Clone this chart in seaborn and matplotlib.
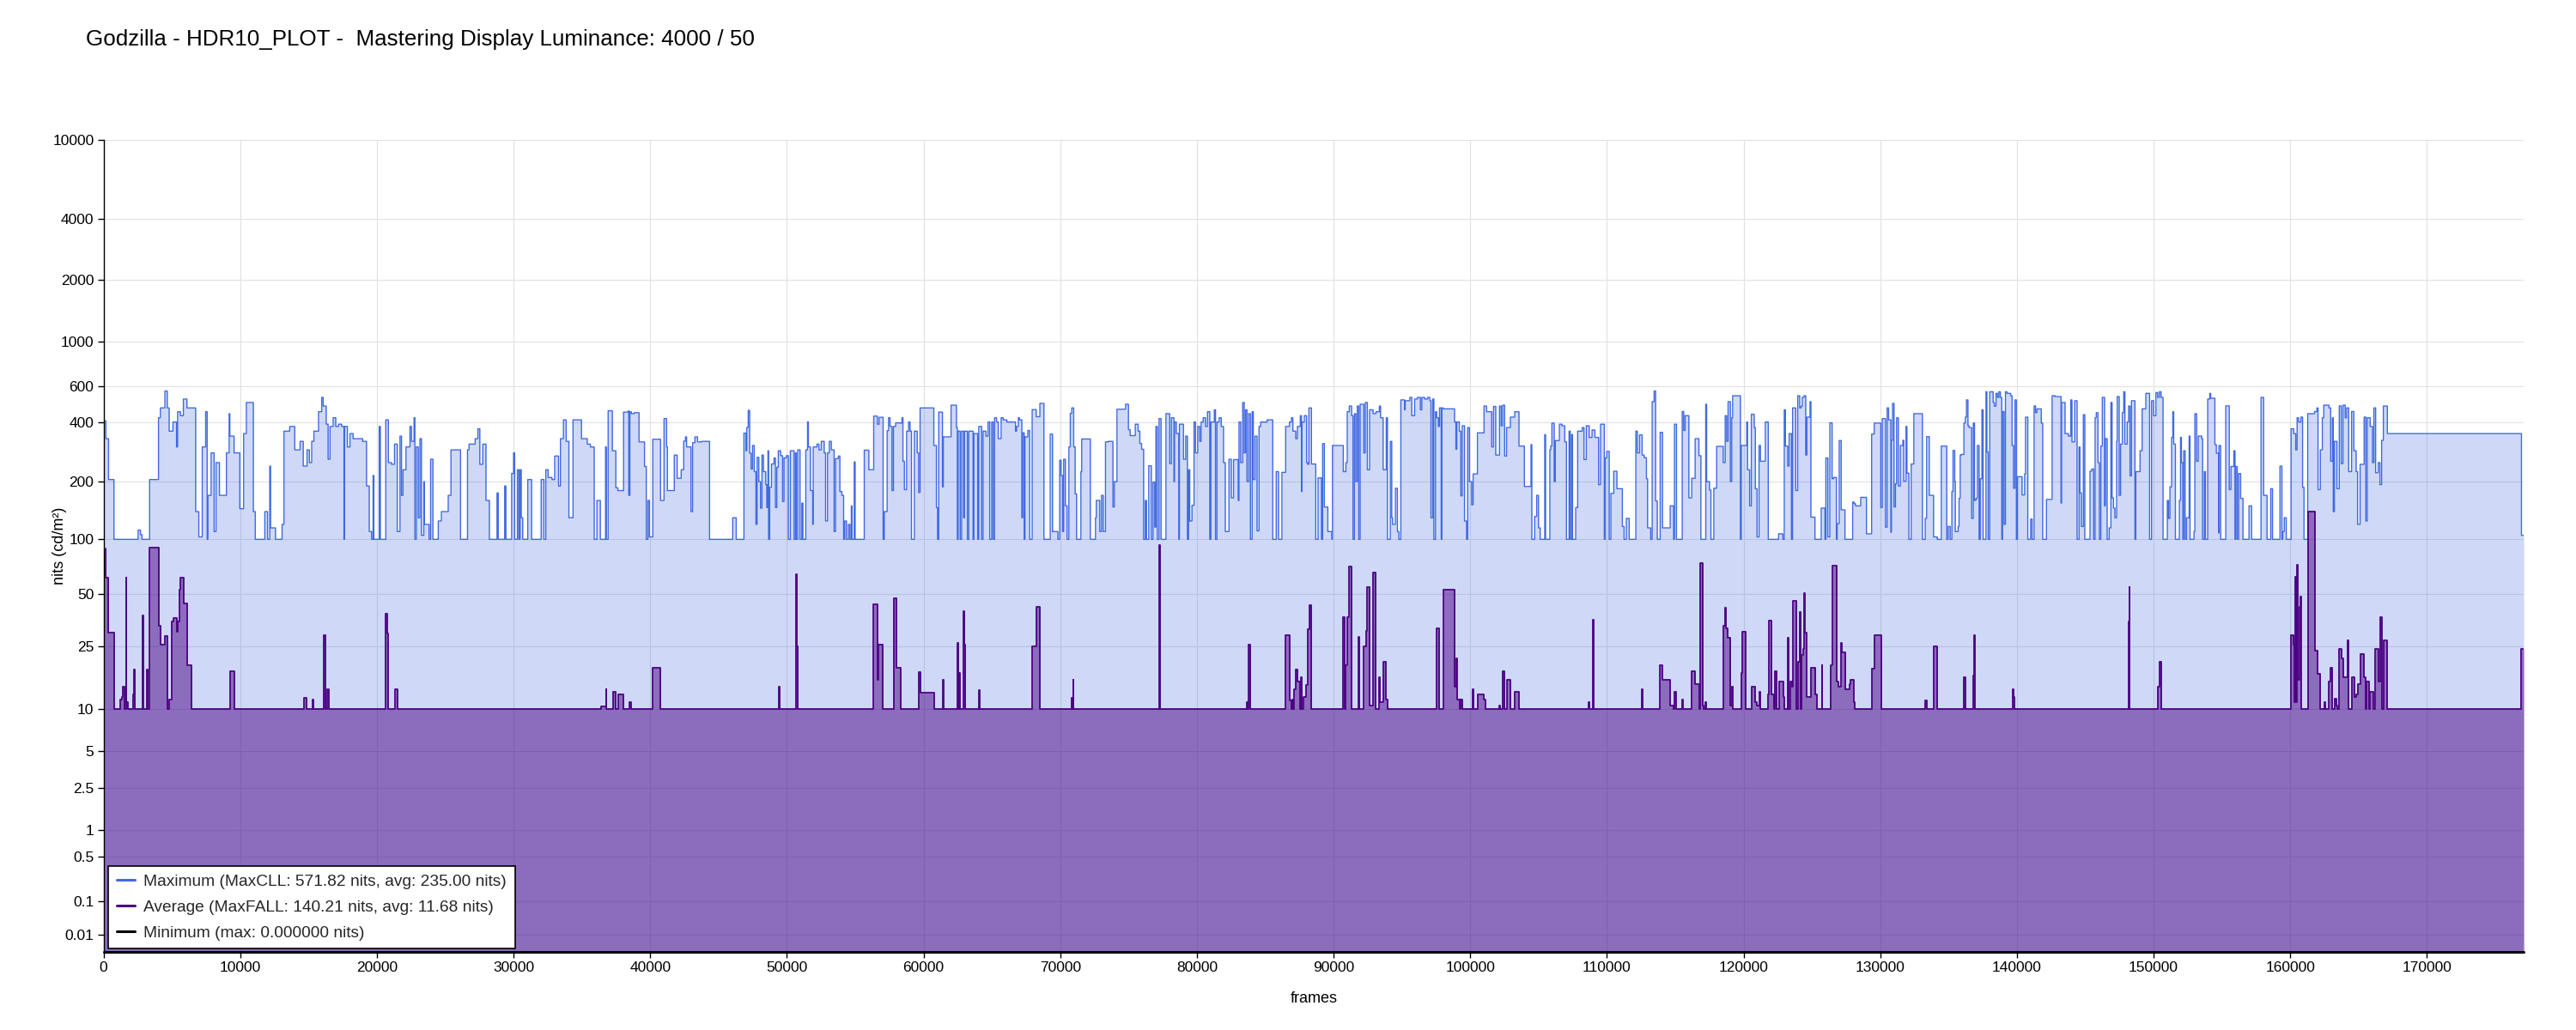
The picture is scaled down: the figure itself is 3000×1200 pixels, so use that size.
import numpy as np
import pandas as pd
import matplotlib
matplotlib.use("Agg")
import matplotlib.pyplot as plt
import seaborn as sns
from matplotlib.lines import Line2D
from matplotlib.ticker import FixedLocator, NullLocator, FixedFormatter

# ---------------- data ----------------
TITLE = "Godzilla - HDR10_PLOT -  Mastering Display Luminance: 4000 / 50"
TOTAL_FRAMES = 177080

# Maximum (MaxCLL) per frame, as step segments: start frame -> nits
max_start = [0, 170, 365, 760, 2530, 2700, 2810, 3370, 4020, 4160, 4490, 4660, 4800, 5080, 5340, 5420, 5620, 5840, 6100, 6740,
             6970, 7220, 7470, 7580, 7640, 7870, 8090, 8230, 8480, 8990, 9190, 9240, 9550, 9970, 10250, 10450, 10960, 11100, 11800, 12000,
             12160, 12220, 12580, 13060, 13200, 13620, 13990, 14380, 14610, 14890, 15060, 15230, 15390, 15730, 15960, 16070, 16290, 16430, 16570, 16800,
             16990, 17190, 17420, 17590, 17630, 17840, 18030, 18260, 18960, 19240, 19440, 19610, 19720, 19780, 20170, 20250, 20650, 20840, 21070, 21290,
             21490, 21690, 21800, 21910, 22130, 22420, 22530, 22720, 22780, 22890, 23030, 23150, 23260, 23430, 23480, 23820, 23930, 24100, 24490, 24720,
             25220, 25420, 26120, 26630, 26740, 27190, 27390, 27530, 27750, 27980, 28230, 28790, 28880, 29350, 29440, 29860, 30000, 30080, 30280, 30390,
             30480, 30560, 30670, 31040, 31320, 32020, 32220, 32360, 32530, 32810, 33010, 33290, 33430, 33650, 33850, 34050, 34350, 34970, 35390, 35620,
             35900, 36100, 36350, 36730, 36790, 36920, 37230, 37485, 37630, 38050, 38410, 38430, 38510, 38615, 38830, 39180, 39580, 39710, 39830, 39940,
             40190, 40755, 41010, 41195, 41260, 41760, 41970, 42265, 42450, 42580, 42660, 42980, 43100, 43270, 43460, 43770, 44340, 46035, 46290, 46855,
             47000, 47065, 47170, 47275, 47380, 47485, 47610, 47735, 47820, 47945, 48070, 48175, 48280, 48450, 48530, 48615, 48660, 48740, 48870, 49055,
             49160, 49265, 49370, 49540, 49685, 49790, 49960, 50105, 50250, 50525, 50630, 50690, 50795, 50960, 51090, 51170, 51380, 51510, 51570, 51720,
             51885, 51925, 52055, 52200, 52345, 52515, 52725, 52830, 52975, 53100, 53250, 53455, 53560, 53770, 53875, 54020, 54150, 54230, 54360, 54505,
             54610, 54715, 54760, 54925, 54990, 55660, 55995, 56350, 56620, 56750, 57040, 57125, 57335, 57440, 57545, 57690, 57795, 57960, 58280, 58425,
             58490, 58595, 58760, 58905, 59010, 59115, 59325, 59535, 59640, 59745, 60750, 60940, 61025, 61110, 61380, 61445, 62010, 62405, 62470, 62530,
             62680, 62785, 62930, 62995, 63205, 63310, 63620, 63685, 63960, 64040, 64250, 64355, 64565, 64715, 64840, 64985, 65090, 65195, 65340, 65465,
             65675, 65825, 66095, 66725, 66810, 66935, 67020, 67190, 67255, 67360, 67420, 67630, 67760, 67945, 68240, 68510, 68805, 69265, 69435, 69830,
             69960, 70060, 70170, 70250, 70375, 70500, 70630, 70735, 70840, 70985, 71090, 71195, 71510, 71570, 72200, 72580, 72640, 72890, 73020, 73145,
             73310, 73500, 73855, 73960, 74150, 74780, 74990, 75115, 75490, 75700, 75825, 75955, 76100, 76225, 76310, 76475, 76665, 76790, 76915, 77000,
             77105, 77230, 77378, 77735, 78010, 78135, 78320, 78365, 78490, 78680, 78720, 79015, 79180, 79305, 79390, 79475, 79640, 79790, 79895, 80060,
             80210, 80310, 80460, 80625, 80775, 80940, 81025, 81275, 81360, 81465, 81630, 81780, 81945, 82075, 82345, 82515, 82680, 83020, 83080, 83205,
             83350, 83460, 83560, 83665, 83790, 83915, 84040, 84125, 84250, 84400, 84545, 84670, 85135, 85550, 85800, 85970, 86220, 86495, 86770, 86915,
             87020, 87230, 87355, 87565, 87650, 87690, 87860, 88025, 88110, 88195, 88380, 88695, 88865, 89115, 89200, 89325, 89580, 89870, 89915, 90710,
             90900, 91000, 91150, 91320, 91420, 91525, 91630, 91735, 91840, 91945, 92050, 92215, 92320, 92470, 92635, 92890, 93100, 93350, 93435, 93625,
             93855, 93940, 94150, 94255, 94315, 94525, 94670, 94775, 94920, 95195, 95240, 95575, 95720, 95930, 96140, 96350, 96455, 96660, 96870, 97040,
             97125, 97250, 97335, 97460, 97540, 97665, 97750, 97875, 97920, 98025, 98850, 98950, 99015, 99200, 99310, 99415, 99580, 99730, 99810, 99940,
             100105, 100210, 100525, 101005, 101195, 101570, 101700, 101865, 102140, 102265, 102370, 102515, 102660, 102935, 103250, 103565, 103960, 104445, 104505, 104715,
             104860, 104990, 105115, 105450, 105510, 105825, 105890, 105975, 106080, 106140, 106225, 106520, 106705, 106915, 107040, 107230, 107315, 107420, 107485, 107715,
             107860, 108195, 108320, 108490, 108700, 108910, 109120, 109390, 109535, 109810, 109870, 109995, 110165, 110290, 110500, 110730, 111130, 111255, 111420, 111630,
             112115, 112220, 112385, 112575, 112720, 112890, 112975, 113205, 113310, 113455, 113560, 113685, 113895, 114065, 114630, 114880, 114945, 115090, 115510, 115615,
             115720, 115995, 116205, 116455, 116730, 116875, 117230, 117295, 117505, 117610, 117820, 118030, 118510, 118655, 118760, 118865, 119030, 119135, 119200, 119765,
             119830, 120230, 120290, 120440, 120565, 120775, 120860, 120985, 121130, 121235, 121590, 121805, 122560, 122870, 122975, 123060, 123225, 123330, 123500, 123585,
             123815, 123960, 124105, 124210, 124295, 124420, 124545, 124630, 124860, 124925, 125220, 125680, 125955, 126020, 126165, 126310, 126475, 126580, 126790, 126850,
             126995, 127140, 127415, 127980, 128085, 128190, 128570, 128990, 129370, 129560, 130040, 130150, 130380, 130505, 130610, 130775, 130820, 130900, 131005, 131110,
             131195, 131320, 131470, 131655, 131720, 131885, 131950, 132095, 132265, 132455, 133080, 133290, 133395, 133585, 133900, 134170, 134465, 134865, 134970, 135115,
             135240, 135325, 135450, 135490, 135700, 135765, 135850, 135935, 136120, 136225, 136310, 136415, 136500, 136685, 136810, 136895, 137000, 137105, 137230, 137315,
             137440, 137525, 137735, 137800, 137900, 138010, 138260, 138345, 138470, 138575, 138680, 138785, 138890, 138950, 139055, 139160, 139265, 139540, 139645, 139750,
             139855, 139960, 140040, 140375, 140565, 140630, 140795, 141005, 141110, 141255, 141360, 141465, 141780, 141885, 142160, 142575, 142785, 143015, 143225, 143270,
             143520, 143770, 143940, 144025, 144230, 144400, 144545, 144610, 144715, 144860, 144965, 145345, 145470, 145615, 145720, 145805, 145930, 146035, 146140, 146245,
             146410, 146475, 146600, 146750, 146875, 146960, 147065, 147170, 147295, 147335, 147480, 147585, 147710, 147815, 147900, 148065, 148170, 148275, 148380, 148635,
             148700, 149010, 149160, 149430, 149705, 149850, 150000, 150170, 150295, 150420, 150545, 150690, 151005, 151090, 151195, 151320, 151405, 151470, 151595, 151885,
             151970, 152035, 152140, 152200, 152305, 152410, 152600, 152665, 152955, 153020, 153145, 153270, 153520, 153585, 153710, 153795, 153960, 154110, 154170, 154485,
             154590, 154760, 154780, 154905, 155280, 155535, 155660, 155870, 155955, 156015, 156120, 156225, 156370, 156540, 156980, 157170, 157860, 158050, 158300, 158570,
             158700, 159245, 159390, 159455, 159560, 159705, 160060, 160250, 160400, 160500, 160605, 160775, 160900, 161005, 161275, 161780, 161950, 162030, 162200, 162345,
             162450, 162830, 162955, 163080, 163145, 163230, 163415, 163585, 163730, 163855, 164020, 164125, 164275, 164485, 164650, 164820, 164925, 165110, 165405, 165530,
             165635, 165845, 166015, 166120, 166245, 166435, 166560, 166685, 166810, 167105, 176915]
max_nits = [405, 330, 205, 100, 112, 106, 100, 205, 420, 470, 570, 470, 360, 400, 300, 450, 430, 520, 470, 140,
            103, 300, 450, 100, 170, 280, 110, 250, 170, 280, 440, 340, 280, 145, 350, 500, 140, 100, 140, 100,
            240, 115, 100, 120, 360, 380, 290, 320, 240, 290, 250, 320, 360, 450, 530, 480, 390, 260, 380, 420,
            380, 390, 380, 100, 380, 300, 350, 330, 320, 190, 110, 100, 215, 100, 380, 100, 410, 250, 245, 310,
            110, 340, 170, 230, 300, 380, 320, 420, 100, 300, 130, 330, 105, 200, 120, 100, 260, 100, 125, 140,
            170, 290, 100, 290, 310, 330, 370, 245, 310, 160, 100, 175, 100, 190, 100, 220, 280, 100, 230, 100,
            230, 130, 100, 205, 100, 205, 100, 230, 210, 205, 270, 190, 330, 410, 320, 130, 410, 330, 310, 300,
            100, 160, 100, 300, 100, 455, 287, 186, 180, 448, 455, 170, 450, 440, 445, 318, 239, 100, 160, 103,
            328, 160, 416, 300, 180, 273, 208, 230, 321, 337, 300, 140, 315, 337, 318, 320, 100, 130, 100, 352,
            287, 375, 457, 279, 232, 305, 225, 120, 266, 200, 146, 273, 225, 193, 147, 287, 100, 187, 246, 264,
            147, 237, 287, 271, 158, 264, 271, 100, 287, 100, 280, 100, 290, 100, 155, 100, 290, 400, 300, 180,
            120, 300, 300, 310, 290, 320, 280, 125, 280, 320, 290, 110, 262, 270, 178, 170, 100, 125, 100, 120,
            100, 150, 100, 252, 100, 289, 230, 428, 390, 422, 100, 140, 362, 420, 380, 180, 380, 396, 395, 420,
            254, 182, 360, 400, 360, 100, 360, 280, 176, 470, 305, 147, 100, 448, 188, 337, 485, 375, 100, 360,
            100, 360, 130, 360, 100, 360, 100, 350, 100, 380, 100, 360, 340, 400, 100, 400, 100, 420, 400, 330,
            420, 410, 400, 360, 380, 420, 410, 130, 353, 100, 337, 363, 100, 461, 425, 495, 100, 348, 110, 100,
            257, 215, 110, 260, 150, 100, 300, 441, 470, 300, 173, 100, 225, 329, 100, 130, 160, 110, 170, 110,
            318, 320, 148, 200, 463, 490, 366, 342, 390, 360, 312, 292, 100, 160, 100, 241, 100, 199, 116, 380,
            100, 416, 100, 440, 247, 420, 200, 400, 350, 100, 390, 260, 340, 100, 230, 125, 151, 400, 280, 380,
            320, 400, 420, 380, 450, 100, 400, 460, 100, 400, 420, 380, 250, 110, 260, 165, 259, 160, 400, 250,
            500, 280, 460, 200, 440, 100, 450, 205, 340, 111, 380, 400, 410, 100, 225, 100, 223, 380, 400, 420,
            360, 330, 380, 430, 178, 400, 430, 250, 245, 470, 246, 100, 209, 100, 312, 148, 110, 100, 305, 225,
            250, 450, 480, 430, 100, 440, 200, 480, 100, 490, 490, 280, 500, 230, 460, 440, 450, 480, 420, 230,
            420, 100, 320, 130, 120, 185, 110, 100, 515, 460, 510, 530, 430, 520, 530, 460, 530, 520, 530, 510,
            130, 520, 100, 450, 420, 380, 470, 100, 470, 465, 400, 292, 400, 360, 169, 383, 125, 100, 375, 200,
            152, 219, 353, 480, 450, 300, 478, 273, 480, 383, 485, 270, 375, 423, 450, 303, 189, 308, 100, 132,
            170, 115, 100, 346, 100, 290, 303, 395, 395, 200, 323, 390, 383, 318, 100, 360, 100, 346, 100, 147,
            360, 375, 259, 383, 335, 365, 335, 193, 390, 100, 264, 285, 100, 174, 226, 184, 117, 100, 129, 100,
            360, 280, 345, 273, 265, 207, 115, 100, 505, 570, 159, 100, 355, 115, 150, 100, 390, 100, 451, 363,
            430, 165, 208, 330, 271, 100, 490, 200, 181, 100, 185, 302, 250, 430, 320, 505, 200, 420, 540, 100,
            305, 400, 230, 150, 437, 375, 184, 103, 305, 254, 400, 100, 107, 100, 460, 303, 240, 350, 100, 470,
            180, 540, 470, 480, 530, 540, 273, 423, 505, 131, 100, 146, 100, 264, 103, 396, 207, 210, 100, 121,
            323, 143, 100, 157, 154, 150, 166, 107, 348, 395, 147, 416, 116, 470, 410, 109, 324, 495, 148, 195,
            420, 190, 305, 324, 201, 380, 221, 100, 246, 440, 100, 129, 338, 170, 103, 100, 303, 100, 117, 100,
            178, 288, 200, 110, 117, 164, 273, 275, 395, 423, 515, 383, 375, 129, 395, 160, 164, 305, 100, 207,
            460, 100, 565, 283, 100, 565, 500, 480, 555, 530, 565, 530, 100, 451, 120, 565, 555, 540, 305, 185,
            515, 100, 212, 171, 219, 423, 100, 128, 100, 481, 445, 465, 395, 100, 162, 540, 535, 535, 155, 500,
            350, 340, 515, 318, 510, 100, 300, 175, 117, 435, 100, 226, 232, 100, 420, 445, 250, 100, 303, 530,
            150, 330, 100, 115, 500, 165, 146, 130, 320, 535, 170, 310, 445, 565, 310, 400, 480, 214, 510, 100,
            225, 287, 465, 555, 100, 510, 430, 560, 530, 565, 530, 100, 160, 129, 188, 335, 450, 310, 100, 160,
            335, 250, 100, 287, 100, 130, 340, 100, 110, 440, 254, 340, 330, 100, 225, 100, 520, 555, 525, 308,
            279, 108, 305, 100, 481, 182, 239, 287, 100, 239, 100, 220, 164, 100, 150, 100, 530, 170, 100, 184,
            100, 240, 100, 110, 130, 100, 370, 350, 290, 420, 400, 423, 187, 100, 440, 451, 470, 182, 290, 420,
            485, 470, 254, 420, 140, 320, 184, 481, 247, 485, 420, 470, 225, 451, 287, 225, 120, 245, 423, 125,
            420, 380, 250, 470, 222, 250, 193, 324, 480, 350, 105]

# Average (MaxFALL) per frame, as step segments
avg_start = [0, 170, 365, 760, 1210, 1320, 1430, 1545, 1630, 1690, 1770, 2190, 2250, 2300, 2840, 2890, 3175, 3230, 3370, 4020,
             4160, 4490, 4690, 4800, 4970, 5110, 5340, 5420, 5560, 5620, 5840, 6100, 6460, 9270, 9550, 14660, 14830, 15310, 15380, 16120,
             16240, 16380, 16490, 20650, 20730, 20840, 21350, 21490, 36375, 36750, 36795, 37255, 37485, 37675, 38050, 38490, 38575, 40190, 40755, 49430,
             49475, 50690, 50730, 50795, 56350, 56620, 56725, 57040, 57815, 57985, 58320, 59640, 59745, 60750, 61380, 61445, 62450, 62520, 62575, 62640,
             62930, 62995, 63055, 64040, 64105, 67945, 68240, 68510, 70820, 70880, 70945, 70985, 77230, 77315, 83665, 83720, 83790, 83915, 86495, 86790,
             86915, 86975, 87020, 87125, 87230, 87375, 87545, 87605, 87690, 87815, 87965, 88110, 88215, 88380, 90710, 90795, 90900, 91000, 91150, 91320,
             91840, 91905, 92215, 92365, 92470, 92635, 92890, 93100, 93350, 93410, 93625, 93830, 93955, 97560, 97710, 98045, 98850, 98950, 99015, 99225,
             99310, 99435, 100170, 100230, 100545, 101005, 101110, 102115, 102200, 102370, 102515, 102660, 102935, 103250, 103565, 108655, 108700, 108970, 109035, 112575,
             112640, 113875, 114065, 114630, 114905, 114945, 115050, 115510, 115575, 116205, 116455, 116730, 116835, 117020, 117085, 117190, 117270, 118510, 118655, 118720,
             118825, 119030, 119135, 119200, 119810, 119870, 120165, 120610, 120815, 120960, 121170, 121230, 121755, 121860, 122050, 122215, 122280, 122425, 122575, 122890,
             122995, 123225, 123285, 123435, 123515, 123625, 123875, 124000, 124105, 124170, 124230, 124335, 124420, 124460, 124585, 124920, 125255, 125380, 125715, 125760,
             126350, 126520, 126835, 126940, 127105, 127190, 127460, 127735, 127820, 128050, 128155, 129370, 129560, 130065, 133290, 133395, 133920, 134150, 136100, 136225,
             136790, 136855, 136920, 139685, 139765, 139810, 148170, 148215, 148255, 150315, 150440, 150565, 160060, 160250, 160290, 160375, 160440, 160500, 160545, 160670,
             160730, 160775, 161275, 161780, 161990, 162200, 162470, 162560, 162830, 162935, 163080, 163230, 163355, 163440, 163585, 163730, 163855, 164170, 164275, 164485,
             164675, 164800, 164925, 165110, 165405, 165530, 165595, 165740, 165845, 166055, 166225, 166435, 166560, 166685, 166810, 167105, 176915]
avg_nits = [89, 62, 30, 10, 11.5, 12, 14, 10, 62, 11, 10, 12.5, 18, 10, 38, 10, 18, 10, 90, 33,
            25.6, 28.6, 10, 11.5, 35, 36.5, 30.5, 35, 53, 62, 44.6, 19, 10, 17.5, 10, 11.8, 10, 11.5, 10, 29,
            10, 13.5, 10, 39, 29.6, 10, 13.5, 10, 10.4, 13.5, 10, 13, 10, 12.4, 10, 11, 10, 18.4, 10, 14,
            10, 65, 25, 10, 44, 15.5, 25.5, 10, 47.5, 18.5, 10, 17.2, 12.7, 10, 15.5, 10, 26, 10, 17, 10,
            40, 25.5, 10, 13.3, 10, 25, 42.5, 10, 11.8, 10, 15.5, 10, 93, 10, 11, 10, 25.5, 10, 29, 11.3,
            10, 11.5, 10, 13.5, 18, 15, 10, 16, 10, 12, 14.3, 31.5, 43.3, 10, 37, 10, 19, 37, 71, 10,
            28.5, 10, 25, 31, 55, 10.5, 66.5, 10, 16, 11, 20, 11.5, 10, 32, 10, 53, 14, 21, 11.5, 10,
            11.5, 10, 13.5, 10, 12.5, 11.5, 10, 10.5, 10, 17.5, 10, 15.5, 10, 13, 10, 11, 10, 36, 10, 13.5,
            10, 19, 15.5, 10.5, 10, 13, 10, 11.5, 10, 17.5, 14.5, 10, 74.5, 10.5, 10, 11, 10, 33, 42, 32,
            28, 10.5, 14, 10, 17, 30.5, 10, 14, 11, 10.5, 13, 10, 12.5, 35.3, 12.5, 10, 17.5, 10, 15, 12,
            10, 28, 10, 15, 14, 46, 10, 20, 39.7, 10, 22, 24, 51, 30, 12, 18.5, 12.5, 10, 19, 10,
            19, 72, 15, 14, 26, 23, 13.5, 14.5, 15.5, 11, 10, 18.2, 29, 10, 11.3, 10, 25, 10, 16, 10,
            16.5, 29, 10, 13.5, 12, 10, 35, 55, 10, 14, 20, 10, 29.2, 25.5, 11, 62.6, 11, 72.6, 15.5, 42.5,
            48.5, 10, 140, 23.5, 16.9, 10, 11, 10, 15, 18.5, 10, 11.7, 10.5, 10, 24, 21, 16, 27, 10, 16,
            12, 12.5, 14.5, 22.5, 16, 10, 15, 10, 13, 10, 24, 15, 37, 10, 27, 10, 24]

# Minimum per frame
min_start = [0]
min_nits = [0.0]

x_ticks = list(range(0, 170001, 10000))
y_ticks = [0.01, 0.1, 0.5, 1, 2.5, 5, 10, 25, 50, 100, 200, 400, 600, 1000, 2000, 4000, 10000]
y_tick_labels = ["0.01", "0.1", "0.5", "1", "2.5", "5", "10", "25", "50", "100", "200", "400",
                 "600", "1000", "2000", "4000", "10000"]
legend_labels = ["Maximum (MaxCLL: 571.82 nits, avg: 235.00 nits)",
                 "Average (MaxFALL: 140.21 nits, avg: 11.68 nits)",
                 "Minimum (max: 0.000000 nits)"]

# ---------------- style ----------------
sns.set_theme(style="whitegrid")
plt.rcParams["font.family"] = ["Liberation Sans", "DejaVu Sans"]

MAX_COLOR = "#4169E1"
AVG_COLOR = "#4B0082"

# SMPTE ST 2084 (PQ) scale
M1 = 2610 / 16384
M2 = 2523 / 4096 * 128
C1 = 3424 / 4096
C2 = 2413 / 4096 * 32
C3 = 2392 / 4096 * 32


def pq_forward(L):
    L = np.clip(np.asarray(L, dtype=float), 0, 10000)
    y = (L / 10000.0) ** M1
    return ((C1 + C2 * y) / (1 + C3 * y)) ** M2


def pq_inverse(V):
    V = np.clip(np.asarray(V, dtype=float), 0, 1)
    vp = V ** (1 / M2)
    num = np.maximum(vp - C1, 0)
    den = C2 - C3 * vp
    return 10000.0 * (num / den) ** (1 / M1)


def step_df(starts, vals, total):
    x = np.append(np.asarray(starts, dtype=float), total)
    y = np.append(np.asarray(vals, dtype=float), vals[-1])
    return pd.DataFrame({"frame": x, "nits": y})


df_max = step_df(max_start, max_nits, TOTAL_FRAMES)
df_avg = step_df(avg_start, avg_nits, TOTAL_FRAMES)
df_min = step_df(min_start, min_nits, TOTAL_FRAMES)

fig = plt.figure(figsize=(30, 12), dpi=100)
fig.patch.set_facecolor("white")
ax = fig.add_axes([0.0402, 0.0758, 0.9395, 0.7884])
ax.set_facecolor("white")

ax.fill_between(df_max["frame"], 0, df_max["nits"], step="post", color=MAX_COLOR,
                alpha=0.25, lw=0, zorder=1)
ax.fill_between(df_avg["frame"], 0, df_avg["nits"], step="post", color=AVG_COLOR,
                alpha=0.5, lw=0, zorder=1.5)
sns.lineplot(data=df_max, x="frame", y="nits", ax=ax, color=MAX_COLOR, lw=1.0,
             drawstyle="steps-post", estimator=None, sort=False, legend=False, zorder=2)
sns.lineplot(data=df_avg, x="frame", y="nits", ax=ax, color=AVG_COLOR, lw=1.3,
             drawstyle="steps-post", estimator=None, sort=False, legend=False, zorder=3)
sns.lineplot(data=df_min, x="frame", y="nits", ax=ax, color="black", lw=2.2,
             drawstyle="steps-post", estimator=None, sort=False, legend=False, zorder=4,
             clip_on=False)

ax.set_yscale("function", functions=(pq_forward, pq_inverse))
ax.set_ylim(0, 10000)
ax.set_xlim(0, TOTAL_FRAMES)
ax.yaxis.set_major_locator(FixedLocator(y_ticks))
ax.yaxis.set_major_formatter(FixedFormatter(y_tick_labels))
ax.yaxis.set_minor_locator(NullLocator())
ax.xaxis.set_major_locator(FixedLocator(x_ticks))
ax.xaxis.set_major_formatter(FixedFormatter([str(v) for v in x_ticks]))
ax.xaxis.set_minor_locator(NullLocator())

ax.set_axisbelow(True)
ax.grid(True, which="major", color="#e1e1e1", lw=0.8)
for side in ["top", "right"]:
    ax.spines[side].set_visible(False)
ax.spines["left"].set_color("black")
ax.spines["left"].set_linewidth(1.0)
ax.spines["bottom"].set_color("black")
ax.spines["bottom"].set_linewidth(1.0)
ax.tick_params(axis="both", which="major", direction="out", length=5, width=1,
               color="black", labelcolor="black", labelsize=12.5, pad=3,
               bottom=True, left=True)

ax.set_xlabel("frames", fontsize=13, color="black")
ax.set_ylabel("nits (cd/m\u00b2)", fontsize=13, color="black")
ax.xaxis.set_label_coords(0.5, -0.049)
ax.yaxis.set_label_coords(-0.0151, 0.5)
ax.xaxis.label.set_va("top")

fig.text(100 / 3000, 1 - 53 / 1200, TITLE, fontsize=18.7, ha="left", va="baseline", color="black")

handles = [Line2D([], [], color=MAX_COLOR, lw=2.2),
           Line2D([], [], color=AVG_COLOR, lw=2.2),
           Line2D([], [], color="black", lw=2.2)]
leg = ax.legend(handles, legend_labels, loc="lower left", bbox_to_anchor=(0.002, 0.004),
                borderaxespad=0, fontsize=13.8, frameon=True, fancybox=False,
                framealpha=1, edgecolor="black", facecolor="white", borderpad=0.5,
                labelspacing=0.65, handlelength=1.1, handletextpad=0.55)
leg.get_frame().set_linewidth(1.2)
leg.set_zorder(10)

fig.savefig("out.png", dpi=100, facecolor="white")
